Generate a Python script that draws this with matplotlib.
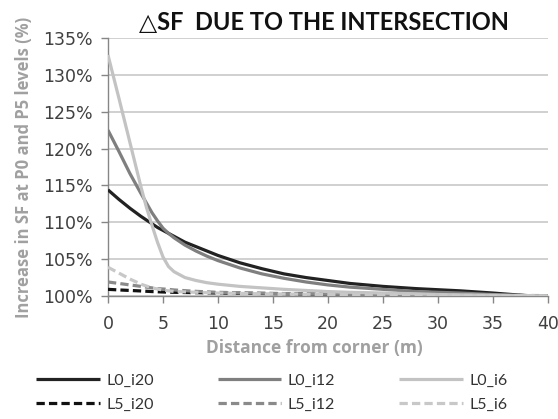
import matplotlib
matplotlib.use("Agg")
import matplotlib.pyplot as plt
from matplotlib.ticker import FuncFormatter, MultipleLocator

# Distance from corner (m)
distance = [0, 1, 2, 3, 3.5, 4, 4.5, 5, 5.5, 6, 7, 8, 9, 10, 12, 14, 16, 18,
            20, 22, 25, 28, 30, 32, 35, 38, 40]

L0_i20 = [114.4, 113.1, 111.9, 110.8, 110.3, 109.8, 109.3, 108.9, 108.5, 108.1,
          107.3, 106.7, 106.1, 105.5, 104.5, 103.7, 103.0, 102.5, 102.1, 101.7,
          101.3, 101.0, 100.85, 100.7, 100.4, 100.05, 100.0]
L0_i12 = [122.5, 119.6, 116.6, 113.9, 112.6, 111.3, 110.2, 109.2, 108.5, 107.9,
          106.9, 106.1, 105.4, 104.8, 103.8, 103.0, 102.4, 101.9, 101.5, 101.2,
          100.9, 100.6, 100.5, 100.4, 100.2, 100.05, 100.0]
L0_i6 = [132.7, 126.8, 120.8, 114.8, 112.0, 109.6, 107.3, 105.3, 104.0, 103.3,
         102.5, 102.1, 101.8, 101.6, 101.3, 101.1, 100.9, 100.75, 100.6, 100.5,
         100.4, 100.3, 100.2, 100.15, 100.1, 100.05, 100.0]
L5_i20 = [100.9, 100.82, 100.75, 100.68, 100.64, 100.6, 100.57, 100.54, 100.52, 100.5,
          100.47, 100.45, 100.42, 100.4, 100.37, 100.34, 100.31, 100.28, 100.25, 100.23,
          100.2, 100.17, 100.15, 100.13, 100.1, 100.06, 100.05]
L5_i12 = [101.9, 101.7, 101.5, 101.3, 101.2, 101.1, 101.0, 100.95, 100.9, 100.82,
          100.72, 100.63, 100.56, 100.5, 100.43, 100.38, 100.33, 100.29, 100.25, 100.22,
          100.18, 100.14, 100.12, 100.1, 100.07, 100.03, 100.0]
L5_i6 = [103.9, 103.1, 102.3, 101.6, 101.35, 101.1, 100.95, 100.8, 100.7, 100.62,
         100.55, 100.5, 100.45, 100.4, 100.35, 100.3, 100.27, 100.24, 100.2, 100.18,
         100.15, 100.12, 100.1, 100.08, 100.06, 100.03, 100.0]

series_names = ["L0_i20", "L5_i20", "L0_i12", "L5_i12", "L0_i6", "L5_i6"]
series_values = [L0_i20, L5_i20, L0_i12, L5_i12, L0_i6, L5_i6]
colors = ["#222222", "#111111", "#7f7f7f", "#8a8a8a", "#c3c3c3", "#c8c8c8"]
dashed = [False, True, False, True, False, True]

fig = plt.figure(figsize=(5.58, 4.19), dpi=100)
ax = fig.add_axes([0.1935, 0.2936, 0.982 - 0.1935, 0.9093 - 0.2936])

handles = []
for name, vals, c, d in zip(series_names, series_values, colors, dashed):
    (h,) = ax.plot(distance, vals, color=c, lw=2.3, label=name,
                   solid_capstyle="butt", dash_capstyle="butt", zorder=3)
    if d:
        h.set_dashes([2.6, 1.3])
    handles.append(h)

ax.set_xlim(0, 40)
ax.set_ylim(100, 135)
ax.xaxis.set_major_locator(MultipleLocator(5))
ax.yaxis.set_major_locator(MultipleLocator(5))
ax.yaxis.set_major_formatter(FuncFormatter(lambda v, p: f"{int(round(v))}%"))
ax.grid(axis="y", color="#c8c8c8", lw=1.2, zorder=0)
ax.set_axisbelow(True)
for s in ["top", "right"]:
    ax.spines[s].set_visible(False)
for s in ["left", "bottom"]:
    ax.spines[s].set_color("#868686")
    ax.spines[s].set_linewidth(1.0)
ax.tick_params(axis="both", colors="#868686", length=5, width=1.0,
               labelcolor="#404040", labelsize=12.5)
ax.tick_params(axis="x", pad=9)
ax.tick_params(axis="y", pad=6)

ax.set_xlabel("Distance from corner (m)", fontsize=12.5, fontweight="bold",
              color="#a0a0a0", family=["Open Sans", "DejaVu Sans"], labelpad=5)
ax.xaxis.set_label_coords(0.468, -0.165)
ax.set_ylabel("Increase in SF at P0 and P5 levels (%)", fontsize=12,
              fontweight="bold", color="#a0a0a0", family=["Open Sans", "DejaVu Sans"],
              labelpad=7)
ax.set_title("\u25B3SF  DUE TO THE INTERSECTION", fontsize=17, fontweight="bold",
             color="#111111", family=["Lato", "DejaVu Sans"], pad=6, x=0.49)

leg = fig.legend(handles=handles, labels=series_names, ncol=3, frameon=False,
                 loc="lower center", bbox_to_anchor=(0.487, -0.017),
                 handlelength=4.0, columnspacing=4.0, handletextpad=0.4,
                 labelspacing=0.62,
                 prop={"family": ["Lato", "DejaVu Sans"], "size": 11.5})
for t in leg.get_texts():
    t.set_color("#333333")

fig.savefig("out.png", dpi=100)
